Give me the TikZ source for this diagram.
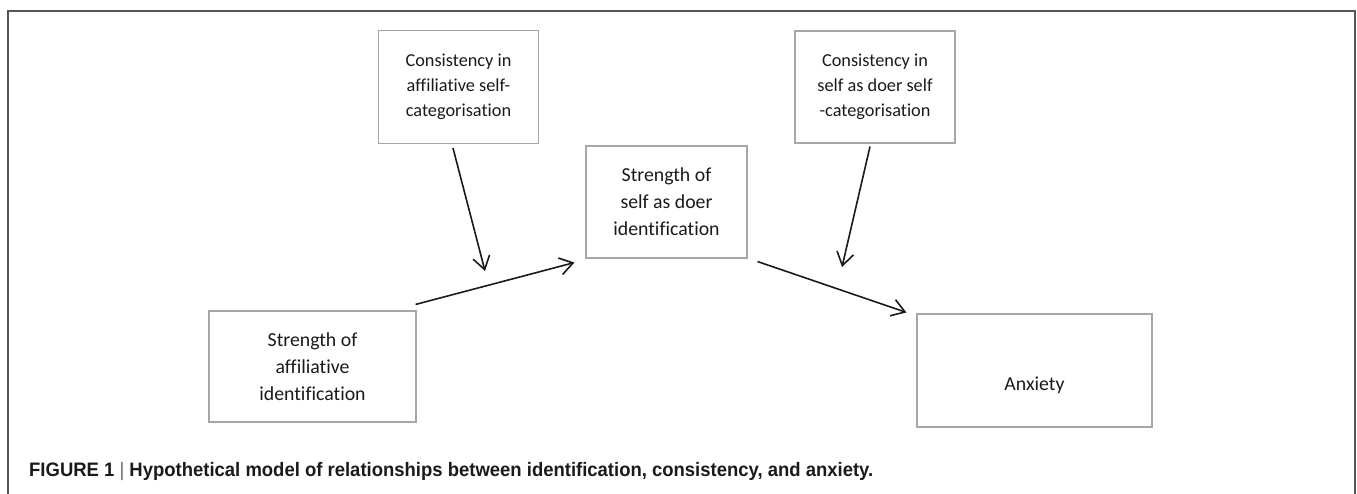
\documentclass[tikz,border=0pt]{standalone}
\usepackage{fontspec}
\setmainfont{Carlito}[Ligatures=NoCommon]
\newfontfamily\legendefont{Liberation Sans}
\usetikzlibrary{arrows.meta,calc,positioning}
\definecolor{bord}{HTML}{A6A6A6}
\definecolor{cadre}{HTML}{555555}
\definecolor{encre}{HTML}{1A1A1A}
\tikzstyle{boite-var}=[draw=bord,line width=1.1pt,inner sep=0pt,align=center,text=encre]
\tikzstyle{boite-petite}=[boite-var,font={\fontsize{18.3}{25}\selectfont}]
\tikzstyle{boite-grande}=[boite-var,font={\fontsize{19.8}{27}\selectfont}]
\tikzstyle{fleche-std}=[draw=encre,line width=1.6pt,-{Straight Barb[length=13pt,width=17pt]}]
\newcommand{\legende}[1]{\resizebox{844pt}{\height}{\legendefont\bfseries\fontsize{19.5}{22}\selectfont #1}}

\begin{document}
\begin{tikzpicture}[x=1pt,y=-1pt]
            \useasboundingbox (0,0) rectangle (1357,494);
            \draw[cadre,line width=1.5pt] (8,494) |- (1355,11) -- (1355,494);
            %
            \node[boite-petite, minimum width=160pt, minimum height=113pt] (cons-aff) at (458.5,87) {Consistency in\\affiliative self-\\categorisation};
            \node[boite-petite, minimum width=160pt, minimum height=112pt] (cons-doer) at (875,87) {Consistency in\\self as doer self\\-categorisation};
            \node[boite-grande, minimum width=161pt, minimum height=112pt] (str-doer) at (666.5,202) {Strength of\\self as doer\\identification};
            \node[boite-grande, minimum width=207pt, minimum height=111pt] (str-aff) at (312.5,366.5) {Strength of\\affiliative\\identification};
            \node[boite-grande, minimum width=235pt, minimum height=113pt] (anx) at (1034.5,370.5) {\mbox{}\\[16pt]Anxiety};
            %
            \coordinate (mod-aff) at (485,271);
            \coordinate (mod-doer) at (842,267);
            %
            \draw[fleche-std] ($(str-aff.north east)+(-1,-6)$) -- ($(str-doer.south west)+(-11,4)$);
            \draw[fleche-std] ($(str-doer.south east)+(10,3)$) -- ($(anx.north west)+(-10,-1)$);
            \draw[fleche-std] ($(cons-aff.south)+(-5.5,4)$) -- (mod-aff);
            \draw[fleche-std] ($(cons-doer.south)+(-5,3)$) -- (mod-doer);
            %
            \node[anchor=base west, inner sep=0pt, text=encre] (titre) at (29,476) {\legende{FIGURE 1 {\mdseries\color{black!60}|} Hypothetical model of relationships between identification, consistency, and anxiety.}};
        \end{tikzpicture}
\end{document}
